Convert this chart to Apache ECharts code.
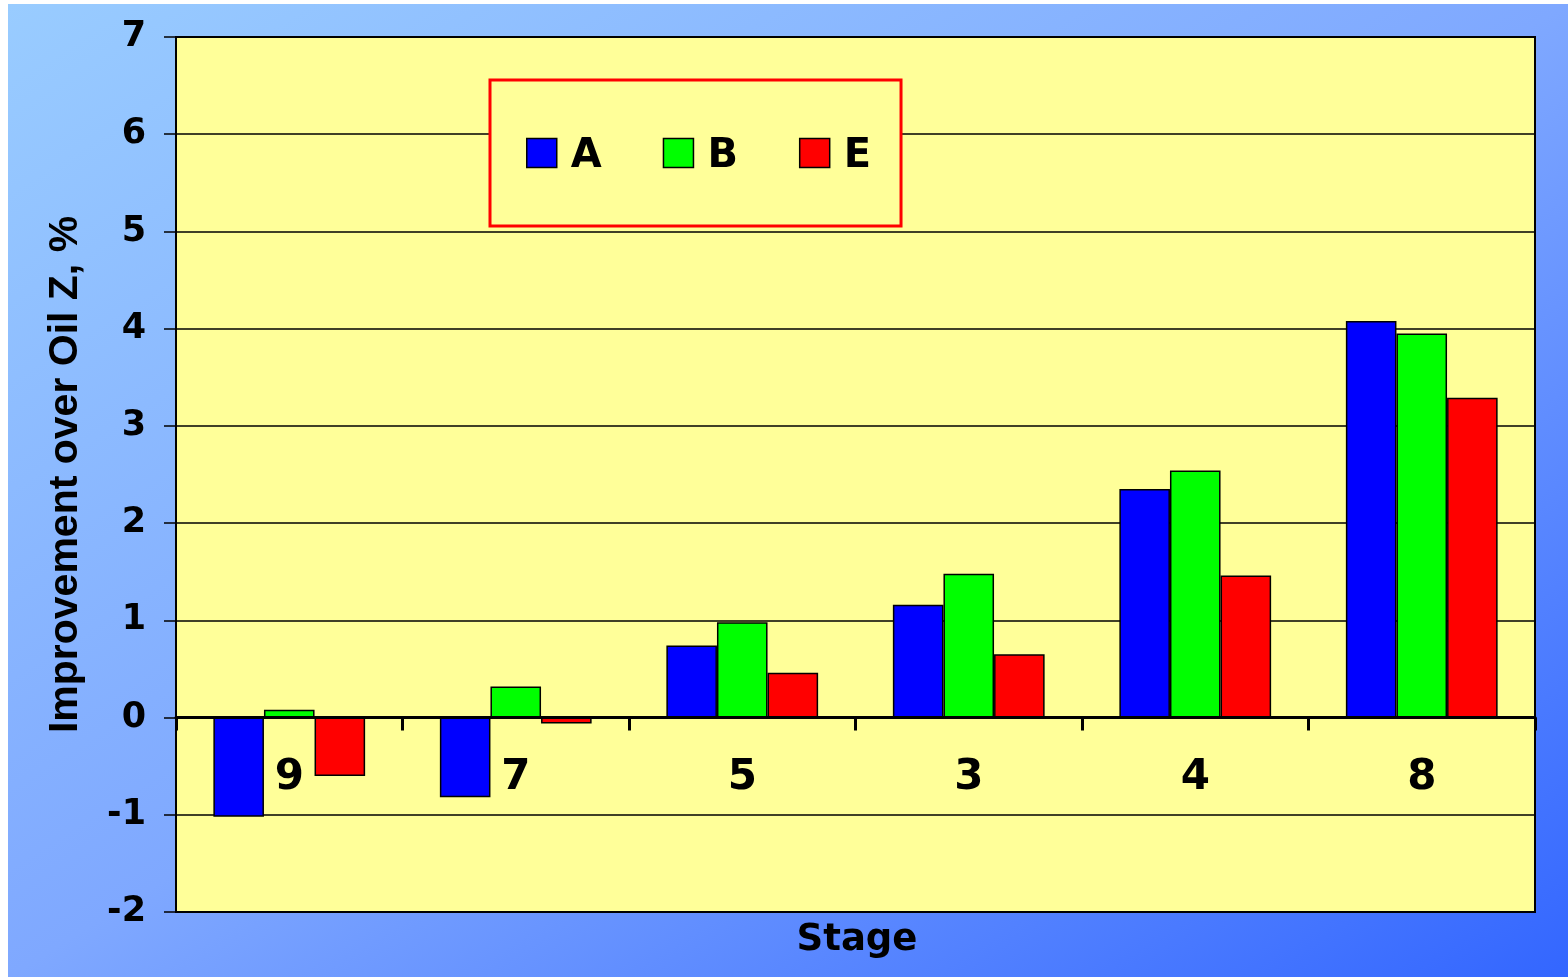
<!DOCTYPE html>
<html><head><meta charset="utf-8">
<script src="https://cdn.jsdelivr.net/npm/echarts@6/dist/echarts.min.js"></script>
<style>
html,body{margin:0;padding:0;background:#fff;width:1568px;height:977px;overflow:hidden}
#c{position:absolute;left:8px;top:4px;width:1560px;height:973px;background:linear-gradient(to bottom right,#99CCFF 0%,#7FA8FF 50%,#3366FF 100%)}
</style></head><body>
<div id="c"></div>
<script>
const stages = ['9','7','5','3','4','8'];
const seriesA = [-1.02, -0.82, 0.74, 1.16, 2.35, 4.08];
const seriesB = [0.08, 0.32, 0.98, 1.48, 2.54, 3.95];
const seriesE = [-0.60, -0.06, 0.46, 0.65, 1.46, 3.29];
const seriesNames = ['A','B','E'];
const colors = ['#0000FF','#00FF00','#FF0000'];
const yTicks = {min:-2, max:7, interval:1};

const chart = echarts.init(document.getElementById('c'));
const wide = 'DejaVu Sans, Verdana, sans-serif';
const narrow = 'Liberation Sans, Arial, sans-serif';
const mk = (name, data, color) => ({
  name, type:'bar', data, barGap:'0%', barCategoryGap:'33%', xAxisIndex:0,
  itemStyle:{color, borderColor:'#000', borderWidth:1.5},
  emphasis:{disabled:true}
});
chart.setOption({
  animation:false,
  textStyle:{fontFamily:wide},
  grid:{left:168, right:33, top:33, bottom:65, show:true, backgroundColor:'#FFFF99', borderColor:'#000', borderWidth:2, outerBoundsMode:'none', containLabel:false},
  legend:{
    data:seriesNames, left:482, top:76, orient:'horizontal', icon:'rect',
    itemWidth:30, itemHeight:29, itemGap:61,
    padding:[49,30,49,36],
    borderColor:'#FF0000', borderWidth:3, backgroundColor:'#FFFF99',
    formatter:'{t|{name}}',
    textStyle:{fontSize:40, fontWeight:'bold', color:'#000', fontFamily:wide,
      rich:{t:{fontSize:40, fontWeight:'bold', color:'#000', fontFamily:wide, padding:[8,0,0,9], lineHeight:40}}},
    itemStyle:{borderColor:'#000', borderWidth:1.5}
  },
  xAxis:[{
    type:'category', data:stages,
    axisLine:{onZero:true, lineStyle:{color:'#000', width:3}},
    axisTick:{show:true, length:13, lineStyle:{color:'#000', width:3}},
    axisLabel:{show:false},
    splitLine:{show:false}
  },{
    type:'category', data:stages, position:'bottom', offset:-195,
    axisLine:{show:false, onZero:false}, axisTick:{show:false},
    axisLabel:{fontSize:42, fontWeight:'bold', color:'#000', margin:40, fontFamily:wide},
    splitLine:{show:false}
  }],
  yAxis:{
    type:'value', min:yTicks.min, max:yTicks.max, interval:yTicks.interval,
    name:'Improvement over Oil Z, %', nameLocation:'middle', nameRotate:90, nameGap:90,
    nameTextStyle:{fontSize:41, fontWeight:'bold', color:'#000', fontFamily:narrow},
    axisLine:{show:true, lineStyle:{color:'#000', width:2}},
    axisTick:{show:true, length:12, lineStyle:{color:'#000', width:1.5}},
    axisLabel:{fontSize:35, fontWeight:'bold', color:'#000', margin:30, fontFamily:wide},
    splitLine:{show:true, lineStyle:{color:'#000', width:1.5}}
  },
  graphic:[{type:'text', x:849, y:936, style:{text:'Stage', font:'bold 37px '+wide, fill:'#000', textAlign:'center', textVerticalAlign:'middle'}}],
  series:[mk(seriesNames[0], seriesA, colors[0]), mk(seriesNames[1], seriesB, colors[1]), mk(seriesNames[2], seriesE, colors[2])]
});
</script></body></html>
